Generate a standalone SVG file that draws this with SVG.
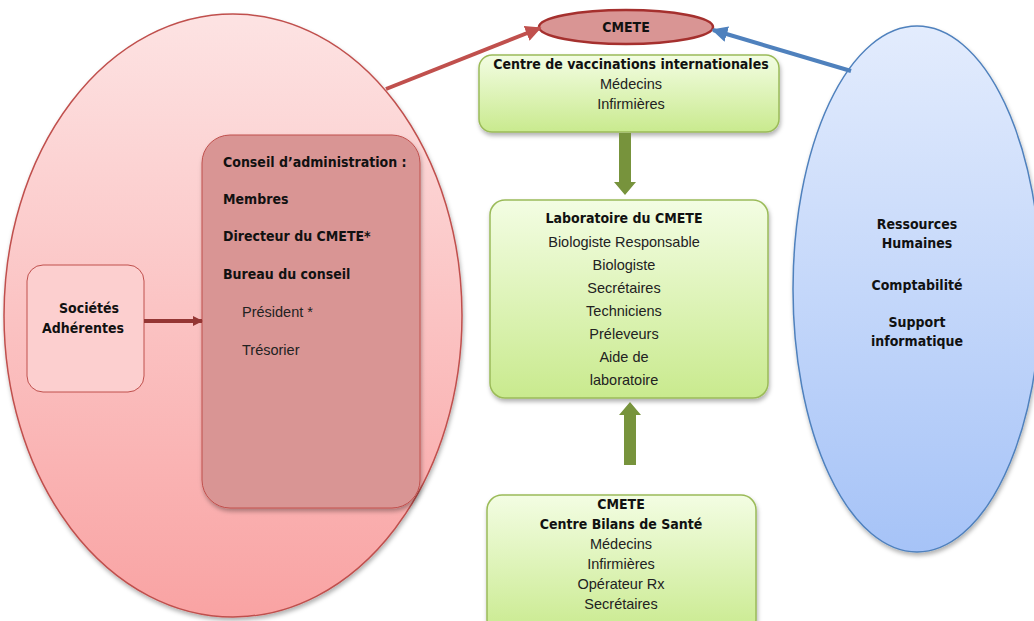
<svg xmlns="http://www.w3.org/2000/svg" width="1034" height="621" viewBox="0 0 1034 621">
<defs>
<linearGradient id="gRed" x1="0" y1="0" x2="0" y2="1">
<stop offset="0" stop-color="#fde3e3"/><stop offset="1" stop-color="#f9a3a3"/>
</linearGradient>
<linearGradient id="gBlue" x1="0" y1="0" x2="0" y2="1">
<stop offset="0" stop-color="#e3ecfd"/><stop offset="1" stop-color="#a6c3f7"/>
</linearGradient>
<linearGradient id="gGreen" x1="0" y1="0" x2="0" y2="1">
<stop offset="0" stop-color="#f3fde3"/><stop offset="1" stop-color="#c9ea8e"/>
</linearGradient>
<filter id="sh" x="-10%" y="-10%" width="130%" height="130%">
<feDropShadow dx="1" dy="3" stdDeviation="2" flood-color="#000" flood-opacity="0.3"/>
</filter>
<marker id="mRed" viewBox="0 0 10 10" refX="9" refY="5" markerWidth="4" markerHeight="4" orient="auto" markerUnits="strokeWidth">
<path d="M0,0 L10,5 L0,10 z" fill="#c0504d"/>
</marker>
<marker id="mBlue" viewBox="0 0 10 10" refX="9" refY="5" markerWidth="4" markerHeight="4" orient="auto" markerUnits="strokeWidth">
<path d="M0,0 L10,5 L0,10 z" fill="#4f81bd"/>
</marker>
<marker id="mDark" viewBox="0 0 10 10" refX="9" refY="5" markerWidth="2.5" markerHeight="3" orient="auto" markerUnits="strokeWidth">
<path d="M0,0 L10,5 L0,10 z" fill="#943634"/>
</marker>
</defs>
<style>
.b{font-family:"DejaVu Sans Condensed","DejaVu Sans",sans-serif;font-weight:bold;font-size:14px;fill:#111}
.r{font-family:"Liberation Sans",Arial,sans-serif;font-size:14.5px;fill:#222}
.c{text-anchor:middle}
.gbox{fill:url(#gGreen);stroke:#9bbb59;stroke-width:1.5;filter:url(#sh)}
</style>
<rect width="1034" height="621" fill="#fff"/>

<g id="red-ellipse">
<ellipse cx="233" cy="315.5" rx="229" ry="301.5" fill="url(#gRed)" stroke="#c0504d" stroke-width="1.5" filter="url(#sh)"/>
</g>
<g id="blue-ellipse">
<ellipse cx="917" cy="289" rx="124" ry="263" fill="url(#gBlue)" stroke="#4f81bd" stroke-width="1.5" filter="url(#sh)"/>
<text class="b c" x="917" y="229">Ressources</text>
<text class="b c" x="917" y="248">Humaines</text>
<text class="b c" x="917" y="290">Comptabilité</text>
<text class="b c" x="917" y="327">Support</text>
<text class="b c" x="917" y="346">informatique</text>
</g>

<g id="societes">
<rect x="27" y="265" width="117" height="127" rx="16" fill="#fccfcf" stroke="#c0504d" stroke-width="1"/>
<text class="b c" x="89" y="313">Sociétés</text>
<text class="b c" x="83" y="333">Adhérentes</text>
</g>

<g id="conseil">
<rect x="202" y="135" width="218" height="373" rx="28" fill="#d99594" stroke="#c0504d" stroke-width="1" filter="url(#sh)"/>
<text class="b" x="223" y="167">Conseil d’administration :</text>
<text class="b" x="223" y="204">Membres</text>
<text class="b" x="223" y="241">Directeur du CMETE*</text>
<text class="b" x="223" y="279">Bureau du conseil</text>
<text class="r" x="242" y="317" fill="#333">Président *</text>
<text class="r" x="242" y="355" fill="#333">Trésorier</text>
</g>

<g id="cmete">
<ellipse cx="626" cy="27" rx="87" ry="17" fill="#d99594" stroke="#a5302e" stroke-width="2.5"/>
<text class="b c" x="626" y="32">CMETE</text>
</g>

<g id="vaccinations">
<rect class="gbox" x="479" y="55" width="300" height="77" rx="13"/>
<text class="b c" x="631" y="69">Centre de vaccinations internationales</text>
<text class="r c" x="631" y="89">Médecins</text>
<text class="r c" x="631" y="109">Infirmières</text>
</g>

<g id="laboratoire">
<rect class="gbox" x="490" y="200" width="278" height="198" rx="15"/>
<text class="b c" x="624" y="223">Laboratoire du CMETE</text>
<text class="r c" x="624" y="247">Biologiste Responsable</text>
<text class="r c" x="624" y="270">Biologiste</text>
<text class="r c" x="624" y="293">Secrétaires</text>
<text class="r c" x="624" y="316">Techniciens</text>
<text class="r c" x="624" y="339">Préleveurs</text>
<text class="r c" x="624" y="362">Aide de</text>
<text class="r c" x="624" y="385">laboratoire</text>
</g>

<g id="bilans">
<rect class="gbox" x="487" y="495" width="269" height="140" rx="15"/>
<text class="b c" x="621" y="509">CMETE</text>
<text class="b c" x="621" y="529">Centre Bilans de Santé</text>
<text class="r c" x="621" y="549">Médecins</text>
<text class="r c" x="621" y="569">Infirmières</text>
<text class="r c" x="621" y="589">Opérateur Rx</text>
<text class="r c" x="621" y="609">Secrétaires</text>
</g>

<g id="connectors">
<line x1="386" y1="89" x2="540" y2="28" stroke="#c0504d" stroke-width="4" marker-end="url(#mRed)"/>
<line x1="851" y1="71" x2="713" y2="30" stroke="#4f81bd" stroke-width="4" marker-end="url(#mBlue)"/>
<line x1="144" y1="321" x2="202" y2="321" stroke="#943634" stroke-width="4" marker-end="url(#mDark)"/>
<polygon points="619,133 631,133 631,182 636,182 625,195 614,182 619,182" fill="#77933c"/>
<polygon points="624,465 636,465 636,415 641,415 630,402 619,415 624,415" fill="#77933c"/>
</g>
</svg>
